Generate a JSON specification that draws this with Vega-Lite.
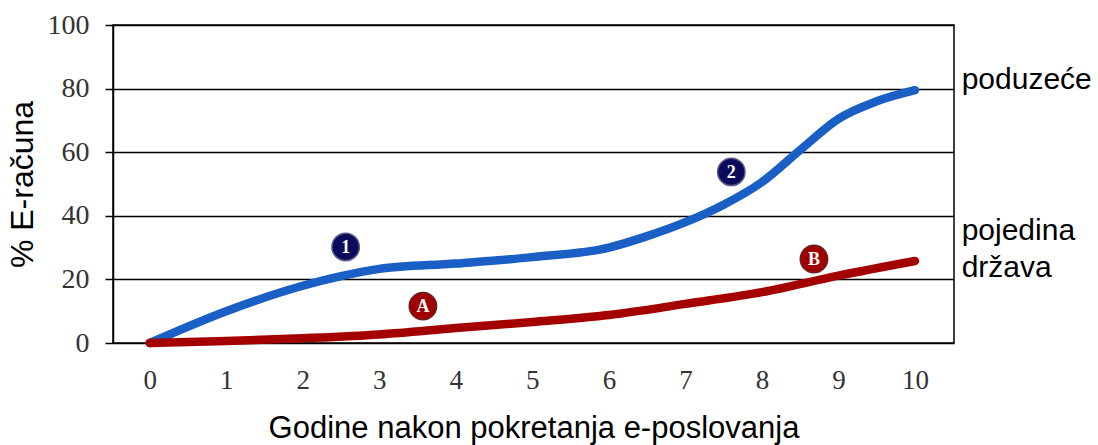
{
  "$schema": "https://vega.github.io/schema/vega-lite/v6.json",
  "width": 841,
  "height": 318,
  "autosize": "none",
  "padding": {"left": 113, "top": 25, "right": 144, "bottom": 102},
  "background": "white",
  "config": {
    "view": {"stroke": "black", "strokeWidth": 1.5},
    "axis": {"grid": false}
  },
  "datasets": {
    "lines": [
      {"x": 0, "y": 0, "s": "poduzeće"},
      {"x": 1, "y": 10, "s": "poduzeće"},
      {"x": 2, "y": 18, "s": "poduzeće"},
      {"x": 2.5, "y": 21, "s": "poduzeće"},
      {"x": 3, "y": 23.3, "s": "poduzeće"},
      {"x": 4, "y": 25, "s": "poduzeće"},
      {"x": 5, "y": 27, "s": "poduzeće"},
      {"x": 6, "y": 30, "s": "poduzeće"},
      {"x": 6.5, "y": 33.6, "s": "poduzeće"},
      {"x": 7, "y": 38, "s": "poduzeće"},
      {"x": 7.5, "y": 43.5, "s": "poduzeće"},
      {"x": 8, "y": 50.6, "s": "poduzeće"},
      {"x": 8.5, "y": 60.7, "s": "poduzeće"},
      {"x": 9, "y": 70.5, "s": "poduzeće"},
      {"x": 9.5, "y": 76, "s": "poduzeće"},
      {"x": 10, "y": 79.5, "s": "poduzeće"},
      {"x": 0, "y": 0, "s": "država"},
      {"x": 1, "y": 0.6, "s": "država"},
      {"x": 2, "y": 1.5, "s": "država"},
      {"x": 3, "y": 2.7, "s": "država"},
      {"x": 4, "y": 4.7, "s": "država"},
      {"x": 5, "y": 6.6, "s": "država"},
      {"x": 6, "y": 8.8, "s": "država"},
      {"x": 7, "y": 12.3, "s": "država"},
      {"x": 8, "y": 16, "s": "država"},
      {"x": 9, "y": 21.2, "s": "država"},
      {"x": 10, "y": 25.8, "s": "država"}
    ],
    "markers": [
      {"x": 2.56, "y": 30.2, "lab": "1", "s": "poduzeće"},
      {"x": 7.6, "y": 53.8, "lab": "2", "s": "poduzeće"},
      {"x": 3.57, "y": 11.6, "lab": "A", "s": "država"},
      {"x": 8.68, "y": 26.4, "lab": "B", "s": "država"}
    ],
    "side": [
      {"x": 10.61, "y": 82.7, "t": "poduzeće"},
      {"x": 10.61, "y": 35.2, "t": "pojedina"},
      {"x": 10.61, "y": 23.6, "t": "država"}
    ]
  },
  "layer": [
    {
      "data": {"name": "lines"},
      "mark": {"type": "line", "interpolate": "monotone", "strokeWidth": 8.5, "strokeCap": "round", "clip": false},
      "encoding": {
        "x": {
          "field": "x", "type": "quantitative",
          "scale": {"domain": [-0.48, 10.51], "nice": false, "zero": false},
          "axis": {
            "values": [0,1,2,3,4,5,6,7,8,9,10],
            "format": "d",
            "title": "Godine nakon pokretanja e-poslovanja",
            "titleFont": "Liberation Sans", "titleFontSize": 31, "titleFontWeight": "normal", "titleColor": "black",
            "titlePadding": 20,
            "labelFont": "Liberation Serif", "labelFontSize": 27, "labelColor": "#333",
            "labelPadding": 24, "ticks": false, "domain": false
          }
        },
        "y": {
          "field": "y", "type": "quantitative",
          "scale": {"domain": [0, 100], "nice": false},
          "axis": {
            "values": [0,20,40,60,80,100],
            "title": "% E-računa",
            "titleFont": "Liberation Sans", "titleFontSize": 32, "titleFontWeight": "normal", "titleColor": "black",
            "titlePadding": 8,
            "labelFont": "Liberation Serif", "labelFontSize": 28, "labelColor": "#333",
            "labelPadding": 16, "tickSize": 8, "tickColor": "black", "tickWidth": 1.5,
            "domainColor": "black", "domainWidth": 1.5,
            "grid": true, "gridColor": "black", "gridWidth": 1.5
          }
        },
        "color": {
          "field": "s", "type": "nominal",
          "scale": {"domain": ["poduzeće", "država"], "range": ["#1a5fc6", "#a50000"]},
          "legend": null
        },
        "order": {"field": "x"}
      }
    },
    {
      "data": {"name": "markers"},
      "mark": {"type": "point", "shape": "circle", "filled": true, "size": 750, "strokeWidth": 1.5, "opacity": 1},
      "encoding": {
        "x": {"field": "x", "type": "quantitative"},
        "y": {"field": "y", "type": "quantitative"},
        "fill": {
          "field": "s", "type": "nominal",
          "scale": {"domain": ["poduzeće", "država"], "range": ["#0b0b5c", "#a00000"]},
          "legend": null
        },
        "stroke": {
          "field": "s", "type": "nominal",
          "scale": {"domain": ["poduzeće", "država"], "range": ["#5a5a8a", "#6a2020"]},
          "legend": null
        }
      }
    },
    {
      "data": {"name": "markers"},
      "mark": {"type": "text", "font": "Liberation Serif", "fontWeight": "bold", "fontSize": 18, "color": "white", "baseline": "middle", "align": "center", "dy": 1},
      "encoding": {
        "x": {"field": "x", "type": "quantitative"},
        "y": {"field": "y", "type": "quantitative"},
        "text": {"field": "lab"}
      }
    },
    {
      "data": {"name": "side"},
      "mark": {"type": "text", "font": "Liberation Sans", "fontSize": 30, "color": "black", "align": "left", "baseline": "middle", "clip": false},
      "encoding": {
        "x": {"field": "x", "type": "quantitative"},
        "y": {"field": "y", "type": "quantitative"},
        "text": {"field": "t"}
      }
    }
  ]
}
